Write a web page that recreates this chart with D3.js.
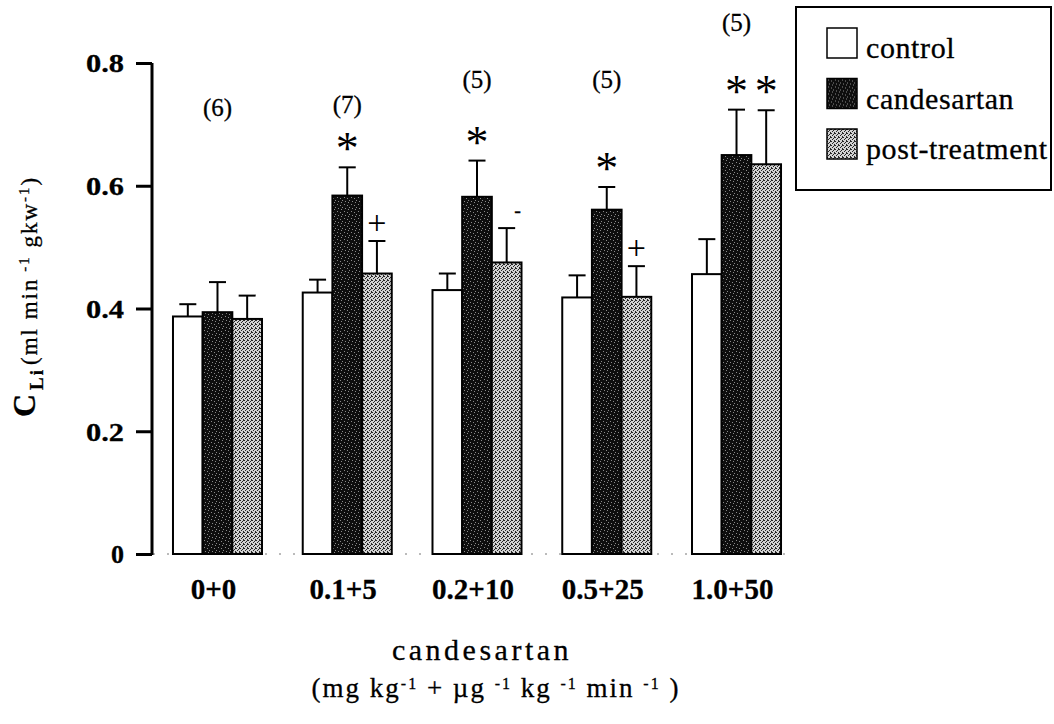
<!DOCTYPE html>
<html>
<head>
<meta charset="utf-8">
<script src="https://cdn.jsdelivr.net/npm/d3@7"></script>
<style>
  body { margin: 0; background: #fff; }
  svg { display: block; font-family: "Liberation Serif", "Times New Roman", serif; }
  svg text { stroke: #000; stroke-width: 0.3px; }
</style>
</head>
<body>
<svg id="chart" width="1054" height="724"></svg>
<script>
"use strict";

// doses (mg kg-1 + ug kg-1 min-1)
const groups = ["0+0", "0.1+5", "0.2+10", "0.5+25", "1.0+50"];
const series = ["control", "candesartan", "post-treatment"];

// C_Li means and SE
const controlMean = [0.387, 0.426, 0.430, 0.418, 0.456];
const controlSE   = [0.020, 0.021, 0.027, 0.036, 0.057];
const candMean    = [0.394, 0.584, 0.582, 0.561, 0.650];
const candSE      = [0.049, 0.046, 0.059, 0.037, 0.074];
const postMean    = [0.383, 0.457, 0.475, 0.419, 0.635];
const postSE      = [0.038, 0.053, 0.056, 0.050, 0.088];

// significance marks over the bars
const candMarks = ["", "*", "*", "*", "*"];
const postMarks = ["", "+", "-", "+", "*"];

// n per group, and the level (in C_Li units) where the label sits
const nAnimals = [6, 7, 5, 5, 5];
const nLabelAt = [0.727, 0.732, 0.772, 0.772, 0.865];

const yTicks = [0, 0.2, 0.4, 0.6, 0.8];

let svg = d3.select("#chart");

// bar textures, speckled like the scan
let defs = svg.append("defs");

let darkPat = defs.append("pattern")
    .attr("id", "patCand")
    .attr("patternUnits", "userSpaceOnUse")
    .attr("width", 7).attr("height", 7);
darkPat.append("rect").attr("width", 7).attr("height", 7).attr("fill", "#0e0e0e");
[[1, 1], [4, 2], [2, 5], [6, 4], [5, 6]].forEach(p => {
    darkPat.append("rect").attr("x", p[0]).attr("y", p[1])
        .attr("width", 1).attr("height", 1).attr("fill", "#8a8a8a");
});

let greyPat = defs.append("pattern")
    .attr("id", "patPost")
    .attr("patternUnits", "userSpaceOnUse")
    .attr("width", 4).attr("height", 4);
greyPat.append("rect").attr("width", 4).attr("height", 4).attr("fill", "#d2d2d2");
[[0, 0], [2, 1], [1, 2], [3, 3], [3, 0]].forEach(p => {
    greyPat.append("rect").attr("x", p[0]).attr("y", p[1])
        .attr("width", 1).attr("height", 1).attr("fill", "#262626");
});

const fills = {
    "control": "#ffffff",
    "candesartan": "url(#patCand)",
    "post-treatment": "url(#patPost)"
};

// scales
let x = d3.scaleBand()
    .domain(groups)
    .range([153, 801])
    .paddingInner(0.314)
    .paddingOuter(0.154);

let xs = d3.scaleBand()
    .domain(series)
    .range([0, x.bandwidth()]);

let y = d3.scaleLinear()
    .domain([0, 0.8])
    .range([554, 63]);

// flatten into one row per bar
let means = [controlMean, candMean, postMean];
let ses = [controlSE, candSE, postSE];
let bars = [];
groups.forEach((g, i) => {
    series.forEach((s, j) => {
        bars.push({ group: g, series: s, mean: means[j][i], se: ses[j][i] });
    });
});

// faint baseline, mostly lost in the scan
svg.append("line")
    .attr("x1", 153).attr("x2", x.range()[1] - 10)
    .attr("y1", y(0)).attr("y2", y(0))
    .attr("stroke", "#777")
    .attr("stroke-width", 1)
    .attr("stroke-dasharray", "2,12");

// bars
let barG = svg.append("g");
barG.selectAll("rect")
    .data(bars)
    .enter().append("rect")
    .attr("x", d => x(d.group) + xs(d.series))
    .attr("y", d => y(d.mean))
    .attr("width", xs.bandwidth())
    .attr("height", d => y(0) - y(d.mean))
    .attr("fill", d => fills[d.series])
    .attr("stroke", "#000")
    .attr("stroke-width", 2);

// error bars (upper only)
let errG = svg.append("g")
    .attr("stroke", "#000")
    .attr("stroke-width", 2);
bars.forEach(d => {
    let cx = x(d.group) + xs(d.series) + xs.bandwidth() / 2;
    errG.append("line")
        .attr("x1", cx).attr("x2", cx)
        .attr("y1", y(d.mean)).attr("y2", y(d.mean + d.se));
    errG.append("line")
        .attr("x1", cx - 8.5).attr("x2", cx + 8.5)
        .attr("y1", y(d.mean + d.se)).attr("y2", y(d.mean + d.se));
});

// significance marks
function addMark(mark, grp, ser, top) {
    if (!mark) return;
    let cx = x(grp) + xs(ser) + xs.bandwidth() / 2;
    if (mark === "*") {
        svg.append("text")
            .attr("x", cx).attr("y", y(top) - 24 + 21)
            .attr("text-anchor", "middle")
            .attr("font-size", 46)
            .style("stroke-width", "0px")
            .text("*");
    } else if (mark === "+") {
        svg.append("text")
            .attr("x", cx).attr("y", y(top) - 16 + 9)
            .attr("text-anchor", "middle")
            .attr("font-size", 34)
            .style("stroke-width", "0px")
            .text("+");
    } else {
        svg.append("text")
            .attr("x", cx + 11).attr("y", y(top) - 17 + 6)
            .attr("text-anchor", "middle")
            .attr("font-size", 20)
            .text(mark);
    }
}
groups.forEach((g, i) => {
    addMark(candMarks[i], g, "candesartan", candMean[i] + candSE[i]);
    addMark(postMarks[i], g, "post-treatment", postMean[i] + postSE[i]);
});

// n labels
svg.append("g").selectAll("text")
    .data(groups)
    .enter().append("text")
    .attr("x", (d, i) => x(d) + xs("candesartan") + xs.bandwidth() / 2)
    .attr("y", (d, i) => y(nLabelAt[i]) + 8)
    .attr("text-anchor", "middle")
    .attr("font-size", 25)
    .text((d, i) => "(" + nAnimals[i] + ")");

// y axis
let yAxis = d3.axisLeft(y)
    .tickValues(yTicks)
    .tickSize(16)
    .tickPadding(12)
    .tickFormat(d => d === 0 ? "0" : d3.format(".1f")(d));

let yAxisG = svg.append("g")
    .attr("transform", "translate(152,0)")
    .call(yAxis);
yAxisG.select(".domain")
    .attr("d", "M0," + y(0.8) + "V" + (y(0) + 1))
    .attr("stroke-width", 3);
yAxisG.selectAll(".tick line").attr("stroke-width", 3);
yAxisG.selectAll(".tick text")
    .attr("font-family", "Liberation Serif, serif")
    .attr("font-weight", "bold")
    .attr("font-size", 26)
    .attr("fill", "#000")
    .attr("dy", "0.34em")
    .each(function(d) {
        let t = d3.select(this);
        if (d !== 0) t.attr("textLength", 38).attr("lengthAdjust", "spacingAndGlyphs");
    });

// x labels
svg.append("g").selectAll("text")
    .data(groups)
    .enter().append("text")
    .attr("x", d => x(d) + x.bandwidth() / 2 - 4)
    .attr("y", 599)
    .attr("text-anchor", "middle")
    .attr("font-weight", "bold")
    .attr("font-size", 29)
    .text(d => d);

// x title
svg.append("text")
    .attr("x", 482)
    .attr("y", 660)
    .attr("text-anchor", "middle")
    .attr("font-size", 30)
    .attr("letter-spacing", 3.5)
    .text("candesartan");

// unit line with superscripts
function richText(sel, parts, supSize) {
    parts.forEach(p => {
        let ts = sel.append("tspan").text(p[0]);
        if (p[1]) ts.attr("font-size", supSize).attr("baseline-shift", "super");
    });
}

let unitText = svg.append("text")
    .attr("x", 496)
    .attr("y", 697)
    .attr("text-anchor", "middle")
    .attr("font-size", 27)
    .attr("letter-spacing", 2);
richText(unitText, [
    ["(mg kg", false], ["-1", true], [" + \u00b5g ", false], ["-1", true],
    [" kg ", false], ["-1", true], [" min ", false], ["-1", true], [" )", false]
], 16);

// y title, rotated
let yTitle = svg.append("g")
    .attr("transform", "translate(35,417) rotate(-90)");
yTitle.append("text")
    .attr("x", 0).attr("y", 0)
    .attr("font-weight", "bold")
    .attr("font-size", 32)
    .text("C");
yTitle.append("text")
    .attr("x", 27).attr("y", 8)
    .attr("font-weight", "bold")
    .attr("font-size", 19)
    .attr("letter-spacing", 2)
    .text("Li");
let yUnit = yTitle.append("text")
    .attr("x", 52).attr("y", 2)
    .attr("font-size", 23)
    .attr("letter-spacing", 2);
richText(yUnit, [
    ["(ml min", false], [" -1", true], [" gkw", false], ["-1", true], [")", false]
], 15);

// legend
let legend = svg.append("g");
legend.append("rect")
    .attr("x", 796).attr("y", 7)
    .attr("width", 255).attr("height", 183)
    .attr("fill", "#fff")
    .attr("stroke", "#000")
    .attr("stroke-width", 2);

let items = legend.selectAll(".item")
    .data(series)
    .enter().append("g")
    .attr("class", "item")
    .attr("transform", (d, i) => "translate(827," + (28 + i * 50.5) + ")");
items.append("rect")
    .attr("width", 30).attr("height", 30)
    .attr("fill", d => fills[d])
    .attr("stroke", "#000")
    .attr("stroke-width", 1.5);
items.append("text")
    .attr("x", 39).attr("y", 30)
    .attr("font-size", 30)
    .attr("letter-spacing", 0.6)
    .text(d => d);
</script>
</body>
</html>
